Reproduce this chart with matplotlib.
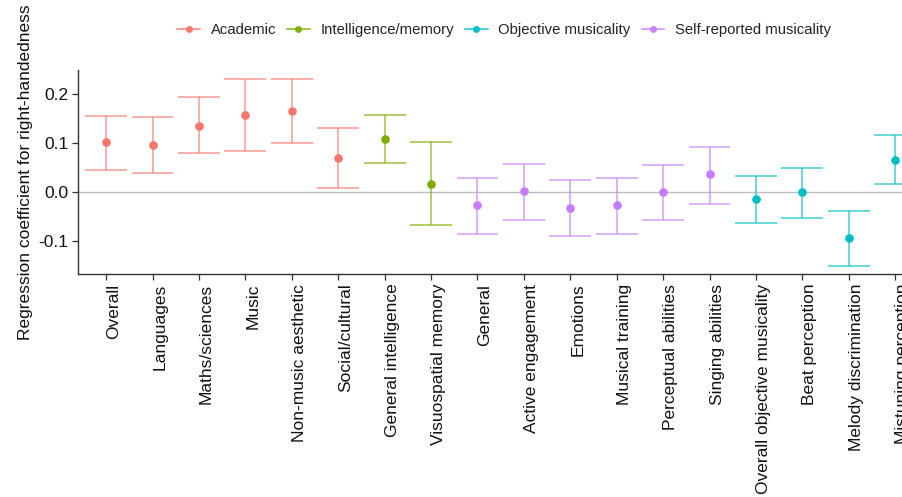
import matplotlib
matplotlib.use('Agg')
import matplotlib.pyplot as plt
from matplotlib.lines import Line2D

plt.rcParams['font.family'] = ['Liberation Sans', 'DejaVu Sans']

# categories in plot order
categories = ['Overall', 'Languages', 'Maths/sciences', 'Music', 'Non-music aesthetic',
              'Social/cultural', 'General intelligence', 'Visuospatial memory',
              'General', 'Active engagement', 'Emotions', 'Musical training',
              'Perceptual abilities', 'Singing abilities', 'Overall objective musicality',
              'Beat perception', 'Melody discrimination', 'Mistuning perception']
groups = ['Academic'] * 6 + ['Intelligence/memory'] * 2 + ['Self-reported musicality'] * 6 \
    + ['Objective musicality'] * 4
estimate = [0.101, 0.096, 0.135, 0.156, 0.164, 0.070, 0.108, 0.016,
            -0.027, 0.002, -0.032, -0.027, 0.000, 0.036, -0.013, 0.000, -0.093, 0.066]
lower = [0.045, 0.038, 0.079, 0.084, 0.099, 0.009, 0.060, -0.066,
         -0.085, -0.056, -0.088, -0.085, -0.057, -0.023, -0.062, -0.052, -0.149, 0.016]
upper = [0.154, 0.152, 0.193, 0.229, 0.229, 0.130, 0.157, 0.101,
         0.028, 0.057, 0.024, 0.028, 0.055, 0.091, 0.033, 0.050, -0.039, 0.116]

legend_order = ['Academic', 'Intelligence/memory', 'Objective musicality', 'Self-reported musicality']
colors = {'Academic': '#F8766D', 'Intelligence/memory': '#7CAE00',
          'Objective musicality': '#00BFC4', 'Self-reported musicality': '#C77CFF'}

fig = plt.figure(figsize=(9.02, 4.97), dpi=100)
ax = fig.add_axes([0.0868, 0.4487, 1.0233 - 0.0868, 0.8592 - 0.4487])

ax.axhline(0, color='#BEBEBE', lw=1.0, zorder=1)

x = list(range(len(categories)))
for i in x:
    c = colors[groups[i]]
    ax.vlines(i, lower[i], upper[i], color=c, lw=1.1, alpha=0.75, zorder=2)
    ax.hlines([lower[i], upper[i]], i - 0.45, i + 0.45, color=c, lw=1.1, alpha=0.75, zorder=2)
    ax.plot(i, estimate[i], 'o', color=c, ms=5.2, zorder=3)

ax.set_xlim(-0.6, len(categories) - 1 + 0.6)
ax.set_ylim(-0.166, 0.248)
ax.set_xticks(x)
ax.set_xticklabels(categories, rotation=90, va='top', ha='left')
ax.set_yticks([-0.1, 0.0, 0.1, 0.2])
ax.set_yticklabels(['-0.1', '0.0', '0.1', '0.2'])
ax.tick_params(axis='both', labelsize=12.5, colors='#333333', labelcolor='#111111',
               length=4, width=0.9, pad=3)
ax.set_ylabel('Regression coefficient for right-handedness', fontsize=12.5, color='#111111')
ax.yaxis.set_label_coords(-0.0536, 0.5)

for s in ['top', 'right']:
    ax.spines[s].set_visible(False)
for s in ['left', 'bottom']:
    ax.spines[s].set_color('#333333')
    ax.spines[s].set_linewidth(1.0)

handles = [Line2D([0], [0], color=colors[g], marker='o', ms=4, lw=1.1, alpha=0.9)
           for g in legend_order]
fig.legend(handles, legend_order, loc='center', bbox_to_anchor=(0.5588, 0.9396), ncol=4,
           frameon=False, fontsize=10.7, handlelength=1.52, columnspacing=0.74,
           handletextpad=0.72, labelcolor='#222222')

fig.savefig('out.png', dpi=100)
